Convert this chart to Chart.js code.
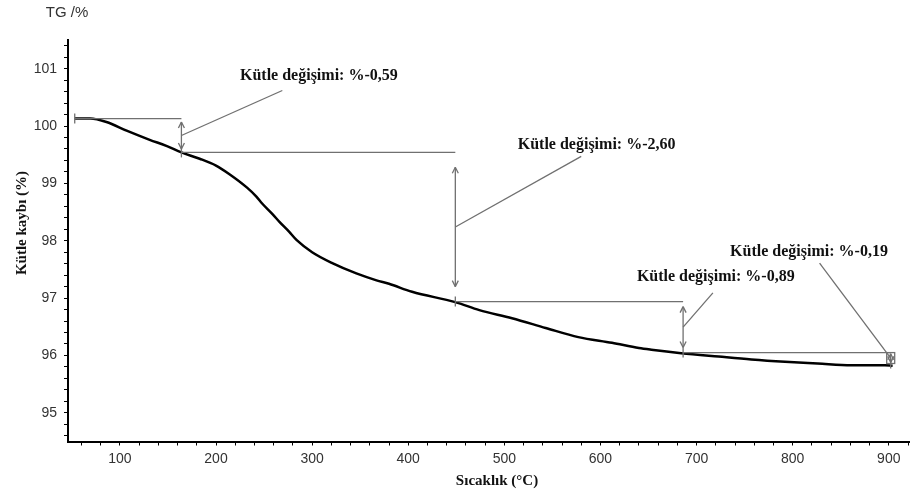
<!DOCTYPE html>
<html>
<head>
<meta charset="utf-8">
<script src="https://cdn.jsdelivr.net/npm/chart.js@4"></script>
<style>
  body { margin: 0; background: #fff; }
  canvas { display: block; }
</style>
</head>
<body>
<canvas id="tg" width="913" height="497"></canvas>
<script>
// TG curve
let temps = [53, 69, 86, 107, 131, 149, 164, 183, 200, 214, 232, 242, 248, 259, 266, 276, 284,
             300, 321, 346, 367, 380, 404, 449, 474, 508, 543, 577, 612, 640, 653, 684, 723, 757,
             792, 826, 861, 896, 904];
let mass = [100.13, 100.13, 100.07, 99.92, 99.76, 99.65, 99.54, 99.43, 99.31, 99.16, 98.93,
            98.77, 98.65, 98.46, 98.33, 98.16, 98.01, 97.80, 97.61, 97.43, 97.31, 97.25, 97.11,
            96.93, 96.79, 96.65, 96.48, 96.32, 96.22, 96.13, 96.10, 96.04, 95.98, 95.93, 95.89,
            95.86, 95.83, 95.83, 95.82];

// mass change steps
let stepTemps = [53, 164, 449, 686, 902];
let stepLevels = [100.13, 99.54, 96.94, 96.05, 95.86];
let changeLabels = ["Kütle değişimi: %-0,59", "Kütle değişimi: %-2,60",
                    "Kütle değişimi: %-0,89", "Kütle değişimi: %-0,19"];

let xMajor = [100, 200, 300, 400, 500, 600, 700, 800, 900];
let yMajor = [95, 96, 97, 98, 99, 100, 101];

// where the callout texts sit (temperature, mass) and where their leader ends
const calloutSpots = [
    {tx: 307, ty: 100.88, lx: 269, ly: 100.62},
    {tx: 596, ty: 99.68, lx: 580, ly: 99.47},
    {tx: 720, ty: 97.37, lx: 717, ly: 97.09},
    {tx: 817, ty: 97.80, lx: 828, ly: 97.61}
];

function tickList(from, to, step) {
    let out = [];
    for(let v = from; v <= to + 1e-9; v += step)
        out.push({value: Math.round(v * 100) / 100});
    return out;
}

const callouts = {
    id: "callouts",
    afterDatasetsDraw(chart) {
        const {ctx} = chart;
        const x = chart.scales.x, y = chart.scales.y;
        const seg = (a, b, c, d)=> { ctx.beginPath(); ctx.moveTo(a, b); ctx.lineTo(c, d); ctx.stroke(); };

        ctx.save();
        ctx.strokeStyle = "#707070";
        ctx.lineWidth = 1.3;

        // little marks where the steps meet the curve
        for(let i = 0; i < stepTemps.length; i++) {
            const px = x.getPixelForValue(stepTemps[i]), py = y.getPixelForValue(stepLevels[i]);
            seg(px, py - 5, px, py + 5);
        }

        for(let i = 0; i < changeLabels.length; i++) {
            const x0 = x.getPixelForValue(stepTemps[i]), x1 = x.getPixelForValue(stepTemps[i + 1]);
            const yA = y.getPixelForValue(stepLevels[i]), yB = y.getPixelForValue(stepLevels[i + 1]);
            seg(x0, yA, x1, yA);

            const inset = (yB - yA) * 0.1;
            const top = yA + inset, bot = yB - inset;
            seg(x1, top, x1, bot);
            seg(x1 - 3, top + 6, x1, top); seg(x1 + 3, top + 6, x1, top);
            seg(x1 - 3, bot - 6, x1, bot); seg(x1 + 3, bot - 6, x1, bot);
            if(yB - yA < 20)
                ctx.strokeRect(x1 - 4, yA, 8, yB - yA);

            const s = calloutSpots[i];
            seg(x1, (yA + yB) / 2, x.getPixelForValue(s.lx), y.getPixelForValue(s.ly));

            ctx.fillStyle = "#111";
            ctx.font = "bold 16px 'Liberation Serif'";
            ctx.textAlign = "center";
            ctx.textBaseline = "middle";
            ctx.fillText(changeLabels[i], x.getPixelForValue(s.tx), y.getPixelForValue(s.ty));
        }
        ctx.restore();
    },
    afterDraw(chart) {
        const {ctx} = chart;
        ctx.save();
        ctx.fillStyle = "#333";
        ctx.font = "15px 'Liberation Sans'";
        ctx.textAlign = "center";
        ctx.textBaseline = "middle";
        ctx.fillText("TG /%", chart.chartArea.left - 1, 13);

        ctx.fillStyle = "#111";
        ctx.font = "bold 15px 'Liberation Serif'";
        ctx.fillText("Sıcaklık (°C)", 497, 481);

        ctx.translate(22, 223);
        ctx.rotate(-Math.PI / 2);
        ctx.fillText("Kütle kaybı (%)", 0, 0);
        ctx.restore();
    }
};

window.onload = ()=> {
    new Chart("tg", {
        type: "scatter",
        data: {
            datasets: [{
                data: temps.map((t, i)=> ({x: t, y: mass[i]})),
                showLine: true,
                borderColor: "#000",
                borderWidth: 2.5,
                pointRadius: 0,
                cubicInterpolationMode: "monotone",
            }]
        },
        options: {
            responsive: false,
            animation: false,
            devicePixelRatio: 1,
            layout: {padding: {top: 40, left: 0, right: 0, bottom: 0}},
            plugins: {legend: {display: false}, tooltip: {enabled: false}},
            scales: {
                x: {
                    type: "linear",
                    min: 46,
                    max: 922,
                    afterBuildTicks: (s)=> { s.ticks = tickList(60, 920, 20); },
                    afterFit: (s)=> { s.height = 55.5; },
                    ticks: {
                        autoSkip: false,
                        maxRotation: 0,
                        padding: 5,
                        color: "#333",
                        font: {family: "'Liberation Sans'", size: 14},
                        callback: (v)=> xMajor.includes(v) ? String(v) : "",
                    },
                    grid: {drawOnChartArea: false, tickLength: 4, color: "#000"},
                    border: {color: "#000", width: 2},
                },
                y: {
                    min: 94.5,
                    max: 101.5,
                    afterBuildTicks: (s)=> { s.ticks = tickList(94.6, 101.4, 0.2); },
                    afterFit: (s)=> { s.width = 68; },
                    ticks: {
                        autoSkip: false,
                        padding: 7,
                        color: "#333",
                        font: {family: "'Liberation Sans'", size: 14},
                        callback: (v)=> yMajor.includes(v) ? String(v) : "",
                    },
                    grid: {drawOnChartArea: false, tickLength: 4, color: "#000"},
                    border: {color: "#000", width: 2},
                }
            }
        },
        plugins: [callouts]
    });
};
</script>
</body>
</html>
